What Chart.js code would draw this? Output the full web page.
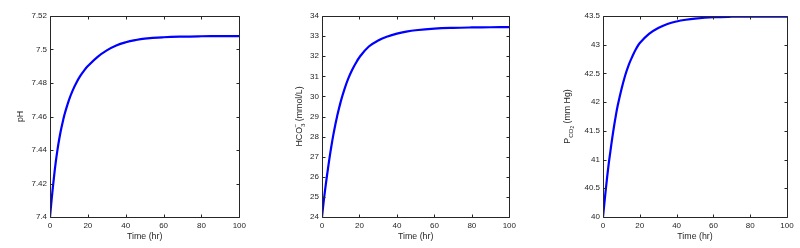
<!DOCTYPE html>
<html>
<head>
<meta charset="utf-8">
<script src="https://cdn.jsdelivr.net/npm/chart.js@4/dist/chart.umd.min.js"></script>
<style>
  body { margin: 0; background: #fff; }
  #wrap { position: relative; width: 800px; height: 248px; overflow: hidden; }
  canvas { position: absolute; top: 0; }
</style>
</head>
<body>
<div id="wrap">
  <canvas id="c1" width="250" height="248" style="left:0px"></canvas>
  <canvas id="c2" width="260" height="248" style="left:260px"></canvas>
  <canvas id="c3" width="270" height="248" style="left:530px"></canvas>
</div>
<script>
// values
const timeHr = [0, 1, 2, 3, 4, 5, 6, 7, 8, 10, 12, 14, 16, 18, 20, 25, 30, 35, 40, 45, 50, 60, 70, 80, 90, 100];
const phValues = [7.400, 7.4120, 7.4228, 7.4324, 7.4405, 7.4473, 7.4531, 7.4581, 7.4625, 7.4698, 7.4756, 7.4803, 7.4842,
  7.4874, 7.4901, 7.4955, 7.4995, 7.5024, 7.5043, 7.5056, 7.5065, 7.5073, 7.5077, 7.5079, 7.508, 7.508];
const hco3Values = [24.0, 24.85, 25.6, 26.28, 26.93, 27.52, 28.06, 28.54, 28.98, 29.74, 30.36, 30.88, 31.3, 31.65, 31.95,
  32.48, 32.78, 32.98, 33.12, 33.22, 33.29, 33.37, 33.41, 33.43, 33.44, 33.45];
const pco2Values = [40.0, 40.32, 40.62, 40.9, 41.14, 41.37, 41.58, 41.77, 41.94, 42.22, 42.46, 42.65, 42.8, 42.93, 43.03,
  43.19, 43.29, 43.36, 43.405, 43.435, 43.455, 43.478, 43.487, 43.49, 43.49, 43.49];

const xTicks = { min: 0, max: 100, step: 20 };
const phAxis = { min: 7.4, max: 7.52, step: 0.02 };
const hco3Axis = { min: 24, max: 34, step: 1 };
const pco2Axis = { min: 40, max: 43.5, step: 0.5 };

const FONT = '"Liberation Sans", Arial, Helvetica, sans-serif';
const INK = '#262626';

// box round the plot with inward ticks on all four sides
const boxPlugin = {
  id: 'box',
  afterDatasetsDraw(chart) {
    const { ctx, chartArea: a, scales: { x, y } } = chart;
    const l = Math.round(a.left) + 0.5, r = Math.round(a.right) + 0.5;
    const t = Math.round(a.top) + 0.5, b = Math.round(a.bottom) + 0.5;
    const len = 3;
    ctx.save();
    ctx.strokeStyle = INK;
    ctx.lineWidth = 1;
    ctx.beginPath();
    ctx.rect(l, t, r - l, b - t);
    x.ticks.forEach((tk, i) => {
      const px = Math.round(x.getPixelForTick(i)) + 0.5;
      ctx.moveTo(px, b); ctx.lineTo(px, b - len);
      ctx.moveTo(px, t); ctx.lineTo(px, t + len);
    });
    y.ticks.forEach((tk, i) => {
      const py = Math.round(y.getPixelForTick(i)) + 0.5;
      ctx.moveTo(l, py); ctx.lineTo(l + len, py);
      ctx.moveTo(r, py); ctx.lineTo(r - len, py);
    });
    ctx.stroke();
    ctx.restore();
  }
};

// rotated y title made of runs: [text, sizeFactor, shift, advance]
const yTitlePlugin = {
  id: 'ytitle',
  afterDraw(chart, args, opts) {
    const { ctx, chartArea: a } = chart;
    const base = 8.8;
    ctx.save();
    ctx.translate(opts.x, (a.top + a.bottom) / 2);
    ctx.rotate(-Math.PI / 2);
    ctx.fillStyle = INK;
    ctx.textBaseline = 'middle';
    ctx.textAlign = 'left';
    let total = 0;
    opts.runs.forEach(rn => {
      ctx.font = (base * rn[1]) + 'px ' + FONT;
      if (rn[3] !== false) total += ctx.measureText(rn[0]).width;
    });
    let cx = -total / 2;
    opts.runs.forEach(rn => {
      ctx.font = (base * rn[1]) + 'px ' + FONT;
      if (rn[3] === false) {
        ctx.fillText(rn[0], cx - ctx.measureText(rn[0]).width, rn[2]);
      } else {
        ctx.fillText(rn[0], cx, rn[2]);
        cx += ctx.measureText(rn[0]).width;
      }
    });
    ctx.restore();
  }
};

const fmt = v => String(parseFloat(Number(v).toFixed(3)));

function makeChart(id, values, yAxis, yWidth, padRight, titleX, runs) {
  new Chart(document.getElementById(id), {
    type: 'line',
    data: {
      labels: timeHr,
      datasets: [{
        data: timeHr.map((t, i) => ({ x: t, y: values[i] })),
        borderColor: '#0000ff',
        borderWidth: 2.2,
        pointRadius: 0,
        fill: false,
        tension: 0.4
      }]
    },
    options: {
      responsive: false,
      animation: false,
      layout: { padding: { top: 16, right: padRight, left: 0, bottom: 0 } },
      plugins: {
        legend: { display: false },
        tooltip: { enabled: false },
        ytitle: { x: titleX, runs: runs }
      },
      scales: {
        x: {
          type: 'linear',
          min: xTicks.min, max: xTicks.max,
          grid: { display: false, drawTicks: false },
          border: { display: false },
          ticks: { stepSize: xTicks.step, padding: 4, color: INK, font: { family: FONT, size: 8 }, maxRotation: 0, callback: fmt },
          title: { display: true, text: 'Time (hr)', color: INK, font: { family: FONT, size: 8.8 }, padding: { top: 0, bottom: 6 } },
          afterFit(s) { s.height = 31; }
        },
        y: {
          min: yAxis.min, max: yAxis.max,
          grid: { display: false, drawTicks: false },
          border: { display: false },
          ticks: { stepSize: yAxis.step, padding: 3, color: INK, font: { family: FONT, size: 8 }, callback: fmt },
          afterFit(s) { s.width = yWidth; }
        }
      }
    },
    plugins: [boxPlugin, yTitlePlugin]
  });
}

makeChart('c1', phValues, phAxis, 50, 8, 21, [['pH', 1, 0]]);
makeChart('c2', hco3Values, hco3Axis, 62, 8, 40,
  [['HCO', 1, 0], ['3', 0.7, 3], ['\u2212', 0.7, -4, false], [' (mmol/L)', 1, 0]]);
makeChart('c3', pco2Values, pco2Axis, 73, 13, 38,
  [['P', 1, 0], ['CO', 0.7, 3], ['2', 0.55, 5], [' (mm Hg)', 1, 0]]);
</script>
</body>
</html>
